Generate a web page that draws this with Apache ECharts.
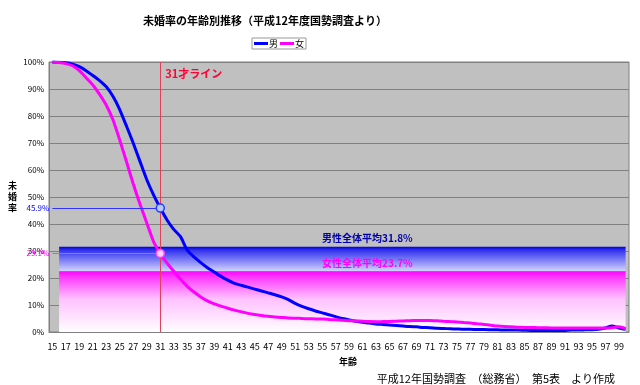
<!DOCTYPE html>
<html><head><meta charset="utf-8">
<script src="https://cdn.jsdelivr.net/npm/echarts@6/dist/echarts.min.js"></script>
<style>html,body{margin:0;padding:0;background:#fff}#c{width:640px;height:385px}</style>
</head><body><div id="c"></div>
<script>
const ages = ['15','16','17','18','19','20','21','22','23','24','25','26','27','28','29','30','31','32','33','34','35','36','37','38','39','40','41','42','43','44','45','46','47','48','49','50','51','52','53','54','55','56','57','58','59','60','61','62','63','64','65','66','67','68','69','70','71','72','73','74','75','76','77','78','79','80','81','82','83','84','85','86','87','88','89','90','91','92','93','94','95','96','97','98','99','100'];
const male = [100,99.9,99.7,99.2,98.3,96.8,95.0,93.1,90.8,87.2,82.3,76.2,69.9,63.1,56.4,50.8,45.9,41.5,38.0,35.3,30.3,27.8,25.7,23.8,22.2,20.6,19.2,18.0,17.3,16.6,15.9,15.2,14.5,13.8,13.0,12.0,10.6,9.5,8.6,7.8,7.1,6.4,5.7,5.0,4.5,4.0,3.6,3.3,3.0,2.8,2.6,2.4,2.2,2.0,1.9,1.7,1.6,1.4,1.3,1.2,1.1,1.0,1.0,0.9,0.9,0.85,0.8,0.75,0.7,0.7,0.65,0.6,0.6,0.6,0.6,0.6,0.6,0.7,0.7,0.8,0.85,1.0,1.5,2.2,1.5,1.0];
const female = [100,99.8,99.4,98.6,96.8,94.2,91.5,88.0,84.0,78.5,71.0,63.0,54.8,47.3,40.4,33.5,29.1,25.5,22.5,19.5,16.9,14.8,13.0,11.5,10.4,9.6,8.8,8.1,7.5,6.9,6.5,6.1,5.8,5.6,5.4,5.2,5.1,5.0,4.9,4.85,4.8,4.65,4.5,4.35,4.2,4.1,4.0,3.85,3.8,3.85,3.9,4.0,4.1,4.2,4.25,4.3,4.25,4.15,4.0,3.85,3.7,3.5,3.3,3.05,2.8,2.5,2.2,2.0,1.9,1.8,1.7,1.65,1.6,1.55,1.5,1.5,1.5,1.5,1.5,1.5,1.5,1.5,1.5,1.6,1.9,1.2];
const seriesNames = ['男','女'];
const markAge = '31';
const markValues = [45.9, 29.1];
const avgLabels = ['男性全体平均31.8%','女性全体平均23.7%'];
const bandTops = [31.6, 22.5];
const bandStart = '16', bandEnd = '100';
const titleText = '未婚率の年齢別推移（平成12年度国勢調査より）';
const sourceText = '平成12年国勢調査　（総務省）　第5表　より作成';
const lineLabel = '31才ライン';

const F = '"Noto Sans CJK JP", sans-serif';
const chart = echarts.init(document.getElementById('c'));
const blankData = ages.map(() => null);
chart.setOption({
  animation: false,
  backgroundColor: '#fff',
  title: { text: titleText, left: 138, top: 10, textStyle: { fontSize: 11, fontWeight: 'bold', fontFamily: F, color: '#000' } },
  legend: {
    data: seriesNames, left: 252, top: 38, icon: 'rect', itemWidth: 14, itemHeight: 3, itemGap: 2,
    borderColor: '#999', borderWidth: 1, padding: [1, 2],
    textStyle: { fontSize: 9, fontFamily: F, color: '#000', padding: [0,0,0,-4] }
  },
  grid: { left: 49, right: 11, top: 62, bottom: 53, show: true, backgroundColor: '#c0c0c0', borderColor: '#808080', borderWidth: 1 },
  xAxis: {
    type: 'category', data: ages, boundaryGap: true,
    name: '年齢', nameLocation: 'middle', nameGap: 25,
    nameTextStyle: { fontSize: 9, fontFamily: F, color: '#000', fontWeight: 'bold', padding: [0,0,0,18] },
    axisLine: { lineStyle: { color: '#808080' } },
    axisTick: { interval: 0, length: 3, lineStyle: { color: '#808080' } },
    axisLabel: { interval: 1, fontSize: 9, color: '#000', margin: 10, fontFamily: F },
    splitLine: { show: false }
  },
  yAxis: {
    type: 'value', min: 0, max: 100, interval: 10,
    name: '未\n婚\n率', nameLocation: 'middle', nameGap: 32, nameRotate: 0,
    nameTextStyle: { fontSize: 9, fontFamily: F, color: '#000', fontWeight: 'bold', lineHeight: 11 },
    axisLine: { show: true, lineStyle: { color: '#808080' } },
    axisTick: { show: false },
    axisLabel: { formatter: '{value}%', fontSize: 8, color: '#000', margin: 5, fontFamily: F },
    splitLine: { lineStyle: { color: '#808080', width: 1 } }
  },
  graphic: [
    { type: 'text', right: 25, top: 373, style: { text: sourceText, fontSize: 11, fontFamily: F, fill: '#000' } }
  ],
  series: [
    {
      name: 'bands', type: 'line', data: blankData, z: 1, silent: true,
      markArea: {
        silent: true,
        data: [
          [ { xAxis: bandStart, yAxis: bandTops[0], itemStyle: { color: new echarts.graphic.LinearGradient(0,0,0,1,[{offset:0,color:'#0000dd'},{offset:0.15,color:'#3333ee'},{offset:1,color:'#d4d4ff'}]) },
              label: { show: true, position: 'top', offset: [25, 2], formatter: avgLabels[0], color: '#0000aa', fontSize: 10, fontWeight: 'bold', fontFamily: F } },
            { xAxis: bandEnd, yAxis: bandTops[1] } ],
          [ { xAxis: bandStart, yAxis: bandTops[1], itemStyle: { color: new echarts.graphic.LinearGradient(0,0,0,1,[{offset:0,color:'#ff00ff'},{offset:0.08,color:'#ff33ff'},{offset:0.45,color:'#ffc0ff'},{offset:1,color:'#ffffff'}]) },
              label: { show: true, position: 'top', offset: [25, 2], formatter: avgLabels[1], color: '#ff00ff', fontSize: 10, fontWeight: 'bold', fontFamily: F } },
            { xAxis: bandEnd, yAxis: 0 } ]
        ]
      },
      markLine: {
        silent: true, symbol: 'none', animation: false,
        data: [
          { xAxis: markAge, lineStyle: { color: '#e0405a', width: 1, type: 'solid' }, label: { show: false } },
          [ { coord: [ages[0], markValues[0]], lineStyle: { color: '#3333ff', width: 1, type: 'solid' },
              label: { show: true, position: 'start', formatter: markValues[0] + '%', color: '#0000ff', fontSize: 8, distance: 3, fontFamily: F } },
            { coord: [markAge, markValues[0]] } ],
          [ { coord: [ages[0], markValues[1]], lineStyle: { color: '#ff33ff', width: 1, type: 'solid' },
              label: { show: true, position: 'start', formatter: markValues[1] + '%', color: '#ff00ff', fontSize: 8, distance: 3, fontFamily: F } },
            { coord: [markAge, markValues[1]] } ]
        ]
      },
      markPoint: {
        silent: true,
        data: [ { coord: [markAge, 95.5], symbol: 'circle', symbolSize: 0,
          label: { show: true, position: 'right', distance: 5, formatter: lineLabel, color: '#ff0033', fontSize: 11, fontWeight: 'bold', fontFamily: F } } ]
      }
    },
    {
      name: seriesNames[0], type: 'line', data: male, z: 3, symbol: 'none', smooth: 0.2,
      lineStyle: { color: '#0000ff', width: 3 }, itemStyle: { color: '#0000ff' },
      markPoint: { silent: true, data: [ { coord: [markAge, markValues[0]], symbol: 'circle', symbolSize: 8,
        itemStyle: { color: '#b8c8ff', borderColor: '#2040ff', borderWidth: 1.5 }, label: { show: false } } ] }
    },
    {
      name: seriesNames[1], type: 'line', data: female, z: 3, symbol: 'none', smooth: 0.2,
      lineStyle: { color: '#ff00ff', width: 3 }, itemStyle: { color: '#ff00ff' },
      markPoint: { silent: true, data: [ { coord: [markAge, markValues[1]], symbol: 'circle', symbolSize: 8,
        itemStyle: { color: '#ffd0ff', borderColor: '#ff40ff', borderWidth: 1.5 }, label: { show: false } } ] }
    }
  ]
});
</script></body></html>
